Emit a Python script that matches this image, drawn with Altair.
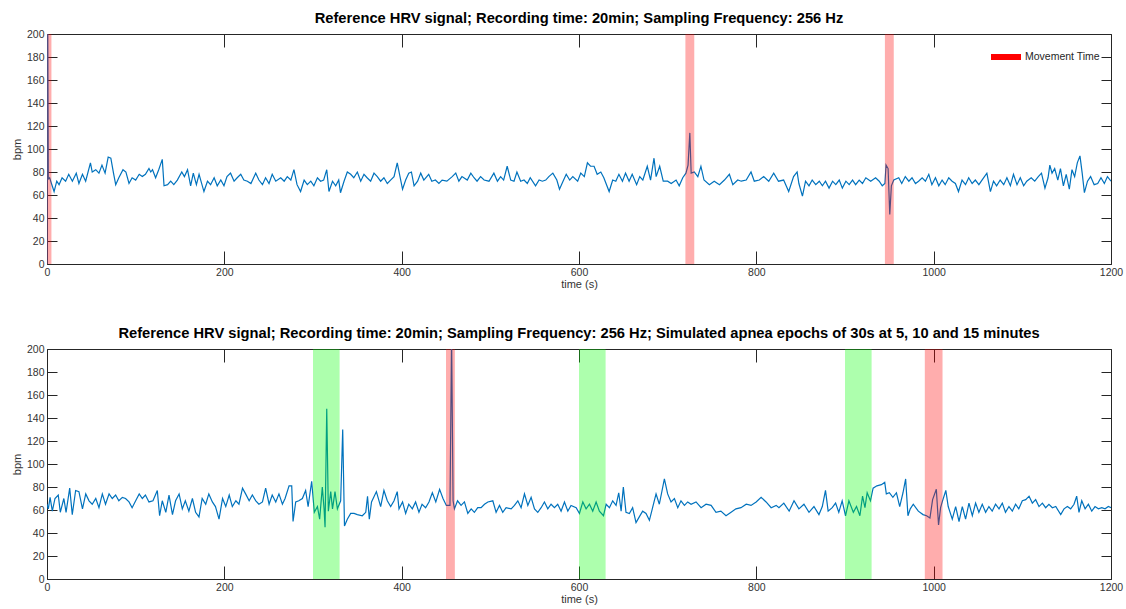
import altair as alt
import pandas as pd

# ---- Panel 1: reference HRV recording (time in s, heart rate in bpm) ----
t1 = [0.0, 0.6, 1.5, 3, 5, 8, 11, 13.6, 17, 21, 24.5, 28.6, 33, 36, 40, 43.6, 49, 51, 55, 58.6,
      62, 65.5, 69, 72, 75, 77.5, 81, 85.7, 89, 92.5, 96, 100, 104, 107.5, 111, 115, 117, 119,
      122.5, 126, 130, 132, 136, 139.5, 143, 147, 152, 155, 158.5, 162, 165, 168.5, 171.5, 177,
      181, 184.5, 188.5, 192, 196, 199.6, 203, 207, 211, 214.5, 218.5, 222, 226, 230, 235.4, 239,
      243, 246.5, 250.4, 254, 258, 263.6, 267.5, 271, 275, 278.5, 282, 286, 290, 293.6, 297.5,
      301, 305, 308.6, 312, 315.5, 318, 322, 325.6, 329, 331, 335, 338.7, 342.5, 346, 350, 353.8,
      357.5, 361, 365, 368.8, 372.5, 376.3, 380, 383.8, 387.5, 391.4, 395, 401, 404.5, 408, 411,
      414, 418, 421.5, 425, 430.5, 434, 438, 442, 445.6, 451, 457, 461, 464.5, 468, 474, 478,
      481.6, 485, 489, 493, 498.5, 504, 508, 511.6, 515, 519, 523, 526.7, 530, 534.2, 538, 541.7,
      545, 551, 555, 558.7, 562.5, 566, 570.5, 575, 578, 582, 585.6, 589.5, 593, 598.5, 602, 606,
      609.5, 613, 617, 620.5, 624.6, 628, 634, 638, 641.5, 645, 649, 652.5, 656.5, 660, 665,
      668.5, 672, 677, 680.7, 684.6, 687, 691, 695, 700, 704, 709.5, 713, 717, 720.6, 723, 725,
      726.5, 730, 734, 737.5, 741, 747, 752.5, 758.4, 764, 769.6, 773.5, 779, 783, 788.6, 794,
      797.7, 803.4, 808.3, 814, 819.6, 825, 830.8, 836.5, 842, 846, 848, 852, 855.5, 859.4, 863,
      867, 871, 874.5, 878, 882, 886, 889.6, 893.5, 897, 901, 904.7, 908.5, 912, 916, 919.7,
      923.5, 929, 934.5, 938.6, 942, 945, 946.3, 948.6, 950.5, 952.3, 955, 960.6, 964, 968, 972,
      975.6, 979.5, 983, 987, 990.7, 994.5, 998, 1002, 1005.8, 1009.5, 1013, 1017, 1020.8, 1024.5,
      1028, 1032, 1035.9, 1039.5, 1043.4, 1047, 1051, 1054.5, 1060, 1064, 1067.5, 1071, 1075,
      1079, 1082.6, 1086.5, 1090, 1094, 1097.7, 1101.5, 1105, 1110, 1114, 1118, 1121.6, 1125.5,
      1129, 1131, 1133.5, 1136.5, 1140, 1143, 1146.3, 1149.5, 1153, 1156, 1159, 1162, 1165,
      1167.5, 1170, 1173.5, 1177, 1181, 1185, 1188.7, 1192.5, 1196, 1200]
hr1 = [0, 260, 74, 75, 70, 63, 72, 69, 75, 72, 78, 72, 79, 70, 78, 72, 88, 80, 82, 79,
       86, 79, 93, 92, 79, 69, 75, 82, 80, 70, 75, 73, 78, 76, 78, 83, 80, 82,
       75, 82, 91, 68, 69, 72, 69, 73, 80, 76, 82, 68, 79, 69, 78, 63,
       72, 69, 75, 68, 73, 68, 76, 79, 72, 75, 78, 73, 72, 70, 79, 73,
       69, 75, 70, 78, 72, 75, 72, 76, 73, 82, 69, 63, 73, 69, 72,
       68, 75, 72, 73, 82, 63, 72, 68, 73, 62, 72, 80, 78, 75, 80, 72,
       78, 75, 72, 79, 76, 72, 75, 70, 73, 76, 88, 65, 73, 79, 80,
       68, 72, 79, 73, 78, 72, 73, 70, 73, 72, 76, 79, 72, 76, 73, 79,
       75, 72, 76, 73, 72, 79, 72, 76, 73, 85, 73, 72, 80, 72, 73, 70,
       75, 68, 73, 72, 73, 76, 79, 73, 65, 72, 78, 73, 76, 72, 79, 76,
       88, 85, 85, 78, 80, 75, 63, 73, 72, 78, 72, 79, 72, 78, 69,
       76, 73, 85, 73, 92, 76, 85, 72, 72, 70, 73, 68, 75, 79, 86, 114,
       79, 80, 76, 85, 73, 69, 72, 69, 73, 78, 69, 73, 72, 73, 80,
       72, 73, 76, 72, 79, 72, 73, 63, 76, 80, 70, 59, 72, 68, 73,
       69, 72, 68, 72, 66, 72, 69, 73, 66, 72, 69, 73, 69, 73, 70,
       75, 72, 75, 72, 68, 70, 86, 83, 43, 68, 73, 75, 70, 76, 72,
       75, 70, 72, 75, 72, 78, 69, 75, 68, 73, 69, 75, 72, 70,
       63, 73, 69, 75, 70, 73, 69, 73, 79, 63, 72, 68, 73,
       69, 75, 68, 78, 69, 75, 68, 72, 75, 72, 76, 79, 66,
       75, 86, 79, 83, 73, 83, 68, 78, 65, 82, 76, 88, 94,
       79, 62, 72, 76, 69, 70, 75, 70, 76, 72]

# ---- Panel 2: same recording with simulated apnea epochs ----
t2 = [0, 1.5, 3.5, 6, 9, 12.7, 15, 19, 21.5, 25.6, 28.5, 32.3, 36, 40, 43.7, 47.4, 51, 55, 58.6,
      62.4, 66, 70, 73.6, 77.4, 81, 85, 88.6, 92.5, 96, 100, 104, 107.5, 111, 115, 119.5, 124.4,
      127, 130, 134, 137.6, 141.5, 145, 149, 152.6, 156, 160, 164, 167.6, 171.4, 175, 179, 182.5,
      186.5, 190, 194, 198, 201.6, 205.5, 209, 213, 216.5, 220.5, 224, 228, 231.6, 235.5, 239,
      243, 246.6, 250.5, 254, 258, 261.6, 265.5, 268.5, 273, 276, 277.5, 280.5, 284, 288, 291.7,
      294.5, 298.5, 301.5, 305, 307.5, 310.5, 312.5, 313.6, 315.5, 317.3, 320, 322, 324.8, 327.5,
      331.2, 333.5, 335.5, 338.7, 342.5, 346.3, 350, 355.6, 359.5, 361.5, 363.5, 366, 371.5,
      376.3, 380, 383.8, 387.6, 391.4, 395, 397, 401, 404.5, 408, 412, 415.7, 419.5, 423, 427,
      430.8, 434.6, 438.5, 442.8, 446.6, 450.4, 454.5, 456.3, 458, 459.5, 463, 467, 470.8, 474.6,
      478.4, 482, 485.8, 489.6, 493.4, 497.2, 502.8, 506.5, 510.3, 514, 517.8, 523.5, 527.2, 531,
      534.7, 538.5, 542.3, 546, 549.8, 553.5, 557.3, 561, 564.8, 568.5, 572.3, 576, 579.8, 583.6,
      587.4, 591, 596.8, 600.5, 604.3, 608, 611.8, 615.5, 619.3, 623, 627.6, 630.6, 634.3, 638,
      641.8, 644.8, 647.5, 650, 653, 656.8, 660.5, 664.3, 668, 671.8, 675.6, 679.4, 683, 686.9,
      690.6, 696.3, 700, 703.8, 707.6, 711.4, 715, 718.9, 722.6, 726.4, 732, 737.7, 743.3, 749,
      754.5, 760, 765.8, 771.5, 777, 782.7, 788.6, 794, 799.8, 805.4, 811, 816.7, 822.4, 825.5,
      831, 837, 842.5, 848, 853.7, 859.4, 865, 870.6, 874.4, 878, 881, 885.6, 889.4, 893, 896.8,
      900.6, 904.4, 909.4, 913, 916.8, 919.8, 922.5, 925, 928.7, 931.7, 936, 941, 944.8, 946.6,
      950, 954, 958, 961.7, 965.4, 968.4, 971, 973.6, 977, 982.7, 988, 992, 995.8, 998.8, 1003,
      1005.5, 1007.8, 1010, 1013.7, 1016.4, 1021, 1024.8, 1028.6, 1032.3, 1036, 1039.8, 1043.6,
      1047.3, 1051, 1054.8, 1058.6, 1062.3, 1066, 1069.8, 1073.7, 1077.4, 1081, 1084.9, 1088.7,
      1092.4, 1096, 1100, 1103.8, 1107.6, 1111.3, 1115, 1118.8, 1122.6, 1126.3, 1130, 1133.9,
      1137.7, 1143.3, 1147, 1150.8, 1154.5, 1158.3, 1161.3, 1163.9, 1167, 1170.8, 1174.5, 1178.3,
      1182, 1185.8, 1189.6, 1193.3, 1197, 1200]
hr2 = [65, 61, 71, 59, 70, 73, 58, 70, 58, 79, 56, 77, 76, 61, 74, 68, 65, 70, 62,
       74, 65, 74, 70, 73, 68, 71, 70, 67, 62, 68, 74, 70, 73, 67, 68, 77,
       55, 68, 58, 73, 56, 68, 74, 61, 68, 59, 70, 58, 54, 70, 65, 74,
       67, 63, 52, 70, 63, 73, 63, 68, 65, 79, 74, 68, 73, 68, 65,
       67, 79, 65, 73, 67, 74, 65, 70, 81, 81, 50, 67, 68, 70, 77,
       63, 85, 58, 63, 52, 80, 61, 45, 148, 59, 76, 61, 76, 61,
       68, 130, 46, 52, 57, 57, 56, 55, 58, 72, 52, 67, 76,
       63, 77, 68, 63, 68, 76, 61, 67, 57, 65, 61, 67, 58, 65, 62,
       67, 75, 67, 78, 70, 64, 64, 210, 68, 61, 68, 64, 67, 57,
       61, 58, 62, 62, 65, 67, 68, 58, 64, 58, 62, 61, 64, 68,
       62, 74, 64, 71, 61, 58, 62, 67, 61, 65, 62, 65, 59, 67,
       59, 64, 62, 57, 67, 61, 65, 59, 67, 59, 55, 65, 62, 68,
       64, 75, 59, 80, 58, 57, 62, 49, 54, 59, 57, 51, 62, 74,
       65, 87, 74, 67, 70, 62, 68, 64, 67, 65, 67, 62, 65, 64,
       58, 59, 55, 58, 61, 62, 65, 64, 67, 71, 67, 62, 64, 62,
       66, 59, 68, 61, 65, 58, 63, 56, 63, 77, 59, 62, 66, 58, 68,
       55, 68, 58, 63, 55, 72, 62, 75, 68, 79, 81, 82, 84, 74,
       75, 71, 75, 63, 75, 87, 55, 61, 65, 59, 56, 55, 53, 69, 78,
       47, 62, 68, 77, 63, 52, 63, 50, 63, 52, 66, 55,
       66, 58, 65, 58, 63, 59, 65, 61, 66, 58, 63, 59,
       65, 61, 68, 69, 72, 66, 69, 63, 66, 62, 65, 62,
       63, 56, 61, 63, 61, 65, 72, 58, 68, 61, 65, 59,
       63, 61, 62, 61, 63, 62]

# Annotated intervals (s)
move1_start = [0, 720, 945]
move1_end = [5, 730, 955]
move2_start = [450, 990]
move2_end = [460, 1010]
apnea_start = [300, 600, 900]
apnea_end = [330, 630, 930]

x_ticks = [0, 200, 400, 600, 800, 1000, 1200]
y_ticks = [0, 20, 40, 60, 80, 100, 120, 140, 160, 180, 200]

title1 = "Reference HRV signal; Recording time: 20min; Sampling Frequency: 256 Hz"
title2 = ("Reference HRV signal; Recording time: 20min; Sampling Frequency: 256 Hz; "
          "Simulated apnea epochs of 30s at 5, 10 and 15 minutes")

FONT = "Liberation Sans"
LINE = "#0072BD"
INK = "#262626"
X_DOM = alt.Scale(domain=[0, 1200], nice=False, zero=False)
Y_DOM = alt.Scale(domain=[0, 200], nice=False, zero=False)


def panel(t, hr, m_start, m_end, title, a_start=None, a_end=None):
    sig = pd.DataFrame({"t": t, "bpm": hr})

    # MATLAB-style inward ticks: shift each axis into the plot by its tick length
    x_bottom = alt.Axis(orient="bottom", values=x_ticks, offset=-13, tickSize=13,
                        tickColor=INK, domain=False, grid=False, labelFlush=False,
                        labelPadding=3, title="time (s)", titlePadding=1, format="d")
    y_left = alt.Axis(orient="left", values=y_ticks, offset=-10, tickSize=10,
                      tickColor=INK, domain=False, grid=False, labelFlush=False,
                      labelPadding=3, title="bpm", titlePadding=4, format="d")
    x_top = alt.Axis(orient="top", values=x_ticks, offset=-13, tickSize=13,
                     tickColor=INK, domain=False, grid=False, labels=False, title=None)
    y_right = alt.Axis(orient="right", values=y_ticks, offset=-10, tickSize=10,
                       tickColor=INK, domain=False, grid=False, labels=False, title=None)

    line = alt.Chart(sig).mark_line(color=LINE, strokeWidth=1.2, clip=True).encode(
        x=alt.X("t:Q", scale=X_DOM, axis=x_bottom),
        y=alt.Y("bpm:Q", scale=Y_DOM, axis=y_left),
    )
    layers = [line]

    if a_start is not None:
        ap = pd.DataFrame({"s": a_start, "e": a_end})
        layers.append(
            alt.Chart(ap).mark_rect(color="#00FF00", opacity=0.32).encode(
                x=alt.X("s:Q", scale=X_DOM, axis=None), x2="e:Q"
            )
        )

    mv = pd.DataFrame({"s": m_start, "e": m_end, "kind": ["Movement Time"] * len(m_start)})
    layers.append(
        alt.Chart(mv).mark_rect(opacity=0.32).encode(
            x=alt.X("s:Q", scale=X_DOM, axis=None), x2="e:Q",
            color=alt.Color(
                "kind:N",
                scale=alt.Scale(domain=["Movement Time"], range=["#FF0000"]),
                legend=alt.Legend(
                    title=None, orient="none", legendX=944, legendY=8, padding=0,
                    symbolType="M-1,-0.2L1,-0.2L1,0.2L-1,0.2Z", symbolSize=900,
                    symbolOpacity=1, symbolStrokeWidth=0, labelOffset=4,
                    labelFont=FONT, labelFontSize=10.5, labelColor=INK,
                ),
            ),
        )
    )

    frame = alt.Chart(sig).mark_point(opacity=0, clip=True).encode(
        x=alt.X("t:Q", scale=X_DOM, axis=x_top),
        y=alt.Y("bpm:Q", scale=Y_DOM, axis=y_right),
    )
    layers.append(frame)

    return (
        alt.layer(*layers)
        .resolve_axis(x="independent", y="independent")
        .properties(
            width=1064, height=230,
            title=alt.TitleParams(text=title, font=FONT, fontSize=14.7, fontWeight="bold",
                                  color="black", anchor="middle", offset=3),
        )
    )


top = panel(t1, hr1, move1_start, move1_end, title1)
bottom = panel(t2, hr2, move2_start, move2_end, title2, apnea_start, apnea_end)

chart = (
    alt.vconcat(top, bottom, spacing=35)
    .properties(padding={"left": 10, "top": 10, "right": 2, "bottom": 2})
    .configure(background="white")
    .configure_view(stroke=INK, strokeWidth=1)
    .configure_axis(labelFont=FONT, labelFontSize=10.5, labelColor="#333333",
                    titleFont=FONT, titleFontSize=11, titleFontWeight="normal",
                    titleColor="#333333", tickWidth=1)
)

chart.save("out.html", embed_options={"renderer": "svg", "actions": False})
